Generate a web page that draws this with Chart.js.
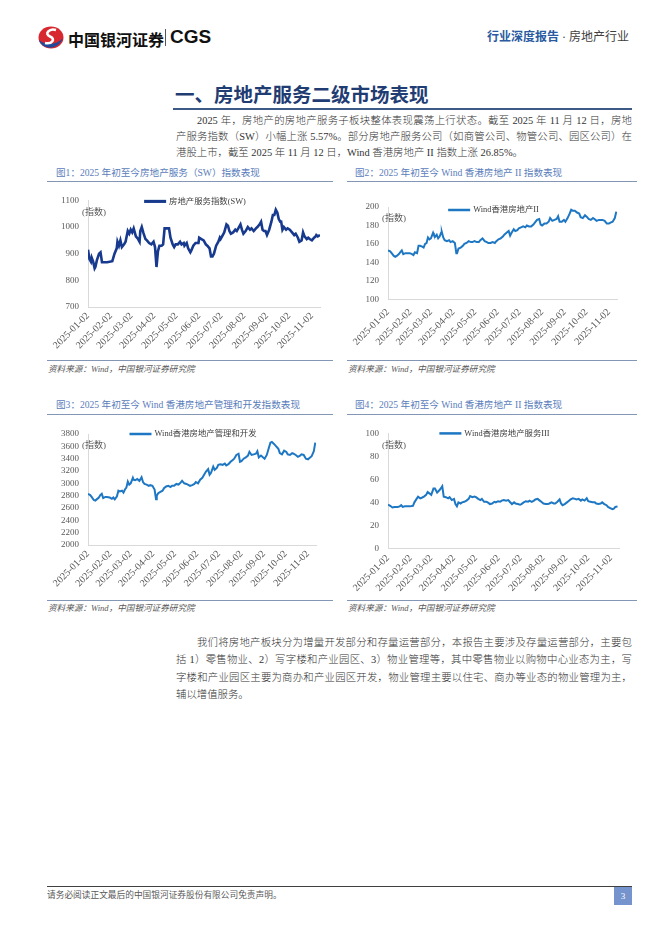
<!DOCTYPE html>
<html>
<head>
<meta charset="utf-8">
<script src="https://cdn.jsdelivr.net/npm/chart.js@4.4.1/dist/chart.umd.min.js"></script>
<style>
  html, body { margin: 0; padding: 0; background: #fff; }
  #page { position: relative; width: 662px; height: 936px; overflow: hidden; background: #fff;
          font-family: "Liberation Serif", "Noto Sans CJK SC", serif; color: #333; }
  .abs { position: absolute; white-space: nowrap; }
  .brand { left: 68px; top: 27px; height: 20px; line-height: 20px; font: bold 16px "Noto Sans CJK SC", sans-serif; color: #111; }
  .brand-sep { left: 165px; top: 29px; width: 1px; height: 17px; background: #555; }
  .brand-en { left: 170px; top: 26px; height: 22px; line-height: 22px; font: bold 19px "Liberation Sans", Arial, sans-serif; color: #111; }
  .hdr { left: 487px; top: 30px; height: 15px; line-height: 15px; font-size: 12px; }
  .hdr .a { color: #2a5aa0; font-weight: bold; }
  .hdr .b { color: #404040; }
  .h1 { left: 175px; top: 79px; height: 24px; line-height: 24px; font: bold 19.5px "Noto Sans CJK SC", sans-serif; color: #1f3c73; }
  .h1-rule { left: 173px; top: 108px; width: 459px; height: 2px; background: #3d5a87; }
  .ln { position: absolute; left: 176px; width: 456px; height: 16px; line-height: 16px; font-size: 10.4px; font-weight: 300;
        color: #333; text-align: justify; text-align-last: justify; }
  .ln.ind { left: 197px; width: 435px; }
  .ln.end { text-align-last: left; }
  .fig { height: 14px; line-height: 14px; font-size: 9.6px; color: #5a7dbb; }
  .rule { height: 1px; background: #8496b6; }
  .src { height: 12px; line-height: 12px; font-size: 8.6px; font-style: italic; color: #595959; }
  canvas { position: absolute; }
  .foot-rule { left: 47px; top: 886px; width: 585px; height: 1px; background: #404040; }
  .foot { left: 47px; top: 889px; height: 12px; line-height: 12px; font-size: 8.7px; color: #595959; }
  .pg { left: 614px; top: 887px; width: 18px; height: 18px; line-height: 18px; background: #7593cc;
        color: #fff; font-size: 9px; text-align: center; }
</style>
</head>
<body>
<div id="page">
  <svg class="abs" style="left:38px;top:26px" width="26" height="23" viewBox="0 0 26 23">
    <ellipse cx="13" cy="11.5" rx="12.5" ry="11" fill="#d7282f"/>
    <path d="M1 14 C4 24, 20 25, 25 12 C19 19, 8 20, 1 14 Z" fill="#1e4a9b"/>
    <path d="M18 4 C11 2, 6 8, 12 10.5 C18 13, 14 18.5, 7 17" stroke="#fff" stroke-width="2.6" fill="none"/>
  </svg>
  <div class="abs brand">中国银河证券</div>
  <div class="abs brand-sep"></div>
  <div class="abs brand-en">CGS</div>
  <div class="abs hdr"><span class="a">行业深度报告</span><span class="b">&nbsp;·&nbsp;房地产行业</span></div>

  <div class="abs h1">一、房地产服务二级市场表现</div>
  <div class="abs h1-rule"></div>

  <div class="ln ind" style="top:113px">2025 年，房地产的房地产服务子板块整体表现震荡上行状态。截至 2025 年 11 月 12 日，房地</div>
  <div class="ln" style="top:129px">产服务指数（SW）小幅上涨 5.57%。部分房地产服务公司（如商管公司、物管公司、园区公司）在</div>
  <div class="ln end" style="top:145px">港股上市，截至 2025 年 11 月 12 日，Wind 香港房地产 II 指数上涨 26.85%。</div>

  <div class="abs fig" style="left:56px;top:166px">图1：2025 年初至今房地产服务（SW）指数表现</div>
  <div class="abs rule" style="left:47px;top:181px;width:286px"></div>
  <div class="abs fig" style="left:355px;top:166px">图2：2025 年初至今 Wind 香港房地产 II 指数表现</div>
  <div class="abs rule" style="left:347px;top:181px;width:290px"></div>

  <canvas id="chartSw" width="290" height="172" style="left:46px;top:186px"></canvas>
  <canvas id="chartHkRe" width="290" height="172" style="left:346px;top:186px"></canvas>

  <div class="abs rule" style="left:47px;top:360px;width:286px"></div>
  <div class="abs src" style="left:48px;top:363px">资料来源：Wind，中国银河证券研究院</div>
  <div class="abs rule" style="left:347px;top:360px;width:290px"></div>
  <div class="abs src" style="left:348px;top:363px">资料来源：Wind，中国银河证券研究院</div>

  <div class="abs fig" style="left:56px;top:398px">图3：2025 年初至今 Wind 香港房地产管理和开发指数表现</div>
  <div class="abs rule" style="left:47px;top:414px;width:286px"></div>
  <div class="abs fig" style="left:355px;top:398px">图4：2025 年初至今 Wind 香港房地产 II 指数表现</div>
  <div class="abs rule" style="left:347px;top:414px;width:290px"></div>

  <canvas id="chartHkDev" width="290" height="175" style="left:46px;top:419px"></canvas>
  <canvas id="chartHkSvc" width="290" height="175" style="left:346px;top:419px"></canvas>

  <div class="abs rule" style="left:47px;top:600px;width:286px"></div>
  <div class="abs src" style="left:48px;top:602px">资料来源：Wind，中国银河证券研究院</div>
  <div class="abs rule" style="left:347px;top:600px;width:290px"></div>
  <div class="abs src" style="left:348px;top:602px">资料来源：Wind，中国银河证券研究院</div>

  <div class="ln ind" style="top:635px">我们将房地产板块分为增量开发部分和存量运营部分，本报告主要涉及存量运营部分，主要包</div>
  <div class="ln" style="top:652px">括 1）零售物业、2）写字楼和产业园区、3）物业管理等，其中零售物业以购物中心业态为主，写</div>
  <div class="ln" style="top:670px">字楼和产业园区主要为商办和产业园区开发，物业管理主要以住宅、商办等业态的物业管理为主，</div>
  <div class="ln end" style="top:687px">辅以增值服务。</div>

  <div class="abs foot-rule"></div>
  <div class="abs foot">请务必阅读正文最后的中国银河证券股份有限公司免责声明。</div>
  <div class="abs pg">3</div>
</div>

<script>
// ============================================================================
// DATA  (x = days since 2025-01-02)
// ============================================================================

var tickDates = ['2025-01-02', '2025-02-02', '2025-03-02', '2025-04-02', '2025-05-02', '2025-06-02',
                 '2025-07-02', '2025-08-02', '2025-09-02', '2025-10-02', '2025-11-02'];

// 图1 房地产服务指数(SW)
var swDays = [0,2,4,5,7,9,10,12,15,17, 19,26,33,36,39,40,42,44,46,49,
              51,54,56,58,60,62,65,68,70,71, 73,75,78,80,83,86,89,91,93,95,
              97,100,102,104,107,110,112,115,117,119, 122,125,127,130,131,134,136,139,140,143,
              146,150,151,154,157,160,162,165,167,169, 171,174,177,179,180,183,185,188,190,192,
              194,197,200,202,205,207,209,211,214,217, 220,222,225,228,230,233,235,237,239,241,
              243,246,249,251,253,255,257,259,261,262, 264,266,269,271,274,277,280,282,285,287,
              290,292,294,297,299,301,304,307,309,310, 312,315];
var swValues = [915,880,870,885,870,845,850,875,900,905, 868,868,872,900,920,945,930,950,925,935,
                945,985,975,990,980,995,965,955,945,985, 1000,980,955,950,940,935,945,925,850,910,
                930,930,935,995,995,995,960,935,925,935, 935,945,935,940,930,940,920,905,910,930,
                940,940,960,955,950,935,930,920,890,890, 900,930,945,960,955,970,980,1010,1005,985,
                975,980,990,985,1000,1010,990,975,985,1000, 990,995,985,995,1000,1010,1020,990,985,985,
                970,990,1020,1045,1045,1065,1055,1030,1020,1025, 990,1000,990,995,990,980,970,975,960,945,
                950,980,965,955,960,955,950,960,965,970, 965,970];

// 图2 Wind香港房地产II
var hkReDays = [0,3,5,8,10,12,15,17,19,21, 24,26,30,33,35,37,40,42,44,47,
                49,51,53,55,57,59,62,63,65,67, 69,71,73,74,76,78,81,84,86,89,
                92,94,95,97,100,103,105,108,111,114, 116,119,122,125,127,130,133,136,138,141,
                144,147,149,152,155,158,160,163,166,168, 170,173,175,178,180,183,186,189,191,194,
                197,200,202,205,208,210,212,215,218,221, 223,226,229,232,234,236,239,242,244,247,
                250,252,254,257,260,263,265,268,271,274, 276,279,282,284,287,290,293,295,298,301,
                304,306,309,312,314];
var hkReValues = [153,152,150,147,146,147,149,151,153,149, 150,150,150,149,148,151,150,158,158,157,
                  156,160,161,167,165,166,172,170,168,170, 166,168,172,173,167,164,163,164,162,163,
                  161,150,150,155,156,158,160,161,163,162, 162,163,162,162,164,166,163,162,161,161,
                  162,161,163,165,166,168,170,172,174,169, 172,176,174,175,177,178,179,178,180,179,
                  179,181,183,186,187,181,180,182,182,184, 188,185,186,187,190,184,184,186,184,188,
                  193,197,196,196,194,193,189,188,191,189, 187,186,188,187,185,186,186,186,185,182,
                  182,183,184,188,195];

// 图3 Wind香港房地产管理和开发
var hkDevDays = [0,3,5,8,10,12,15,17,19,21, 24,26,30,33,35,37,40,42,44,47,
                 49,51,53,55,57,59,62,63,65,68, 71,73,74,76,78,81,84,86,89,92,
                 94,95,97,100,103,105,108,111,114,116, 119,122,125,127,130,133,136,138,141,144,
                 147,149,152,155,158,160,163,166,168,170, 173,175,178,180,183,186,189,191,194,197,
                 200,202,205,208,210,212,215,218,221,223, 226,229,232,234,236,239,242,244,247,250,
                 252,254,257,260,263,265,268,271,274,276, 279,282,284,287,290,293,295,298,301,304,
                 306,309,312,314];
var hkDevValues = [2830,2810,2780,2730,2720,2740,2770,2810,2830,2760, 2780,2780,2770,2750,2770,2740,2790,2880,2870,2880,
                   2850,2900,2930,3030,2980,3000,3090,3060,3050,3070, 3040,3080,3100,3020,2990,2980,2960,2970,2960,2900,
                   2740,2800,2840,2860,2880,2920,2950,2960,2940,2960, 2960,2990,2980,3000,3040,3000,2990,2980,2960,2970,
                   2990,3020,3000,3060,3090,3130,3190,3230,3140,3170, 3270,3220,3250,3300,3310,3300,3320,3290,3310,3350,
                   3380,3400,3460,3480,3350,3360,3400,3420,3450,3510, 3460,3470,3480,3520,3420,3450,3420,3400,3460,3580,
                   3660,3670,3640,3600,3560,3490,3470,3530,3510,3470, 3460,3490,3480,3460,3430,3450,3470,3460,3400,3390,
                   3410,3440,3520,3660];

// 图4 Wind香港房地产服务III
var hkSvcDays = [0,3,6,9,13,16,18,20,23,27, 30,34,36,39,41,44,46,49,52,54,
                 56,59,62,64,67,70,73,74,76,79, 82,84,87,90,92,94,96,99,101,104,
                 107,110,112,115,118,120,123,126,128,131, 134,136,139,142,145,147,150,153,155,158,
                 161,164,166,169,172,174,177,180,182,185, 188,191,193,196,199,201,204,207,209,212,
                 215,218,220,223,226,228,231,234,236,238, 241,244,246,249,252,255,257,260,263,265,
                 268,271,273,276,279,282,284,287,290,292, 295,298,300,303,306,308,310,313];
var hkSvcValues = [38,37,35.5,36,36,36.5,37.5,36,36.5,36.5, 36.5,37,40,43,45,43.5,44,45,46.5,49,
                   48,46.5,52,52,48.5,50.5,53,54,45,44.5, 43.5,44.5,42,43,38.5,36.5,40,39,40,40.5,
                   41.5,43,45.5,44.5,45,44.5,43,42,43,40.5, 40.5,40,38.5,39,40.5,40,41,40.5,41.5,42,
                   41.5,42,40.5,38.5,40,39,38.5,38,38.5,40, 41,40.5,41.5,40.5,41.5,42.5,43,41.5,40.5,39,
                   38.5,38.5,39,40,39,39,40.5,42.5,39,37.5, 38.5,40,41,42.5,43.5,43,42.5,43,41.5,42.5,
                   41.5,43.5,41,40.5,40,40,39,38.5,39,40, 38.5,37.5,36,35,34,34.5,36,36.5];

// ============================================================================
// HELPERS
// ============================================================================

var AXIS_GREY = '#d9d9d9';
var TEXT_GREY = '#595959';
var SERIF = "'Liberation Serif', 'Noto Sans CJK SC', serif";

function dayOf(dateStr) {
    var p = dateStr.split('-');
    return (Date.UTC(+p[0], +p[1] - 1, +p[2]) - Date.UTC(2025, 0, 2)) / 864e5;
}

var tickDays = tickDates.map(dayOf);

function toPoints(days, values) {
    return days.map(function(d, i) { return { x: d, y: values[i] }; });
}

// unit label "(指数)" and the one-line legend drawn inside the plot, as in the source
var chartNotes = {
    id: 'chartNotes',
    afterDraw: function(chart, args, opts) {
        var ctx = chart.ctx;
        var area = chart.chartArea;
        var ds = chart.data.datasets[0];
        ctx.save();
        ctx.textBaseline = 'middle';
        ctx.textAlign = 'left';
        ctx.font = '9px ' + SERIF;
        ctx.fillStyle = TEXT_GREY;
        ctx.fillText('(指数)', area.left - 6, area.top + opts.unitDy);

        ctx.font = '8.4px ' + SERIF;
        var tw = ctx.measureText(ds.label).width;
        var total = 22 + 3 + tw;
        var x = (area.left + area.right) / 2 - 9 - total / 2;
        var y = area.top + opts.legendDy;
        ctx.strokeStyle = ds.borderColor;
        ctx.lineWidth = ds.borderWidth + 0.5;
        ctx.beginPath();
        ctx.moveTo(x, y);
        ctx.lineTo(x + 22, y);
        ctx.stroke();
        ctx.fillStyle = '#404040';
        ctx.fillText(ds.label, x + 25, y);
        ctx.restore();
    }
};

/**
 * Build one index line chart
 * @param {string} canvasId - Canvas element ID
 * @param {Object} cfg - series + axis settings
 */
function buildChart(canvasId, cfg) {
    return new Chart(document.getElementById(canvasId), {
        type: 'line',
        data: {
            datasets: [{
                label: cfg.label,
                data: toPoints(cfg.days, cfg.values),
                borderColor: cfg.color,
                borderWidth: cfg.lineWidth,
                pointRadius: 0,
                tension: 0,
                fill: false
            }]
        },
        options: {
            responsive: false,
            maintainAspectRatio: false,
            animation: false,
            layout: { padding: { top: cfg.padTop, right: cfg.padRight, left: 0, bottom: 0 } },
            plugins: {
                legend: { display: false },
                tooltip: { enabled: false },
                chartNotes: { unitDy: 12, legendDy: cfg.legendDy }
            },
            scales: {
                x: {
                    type: 'linear',
                    min: 0,
                    max: 315,
                    grid: { display: false, drawTicks: false },
                    border: { display: true, color: AXIS_GREY },
                    afterBuildTicks: function(axis) {
                        axis.ticks = tickDays.map(function(v) { return { value: v }; });
                    },
                    afterFit: function(axis) { axis.height = cfg.xHeight; },
                    ticks: {
                        autoSkip: false,
                        minRotation: 45,
                        maxRotation: 45,
                        padding: cfg.xPad,
                        color: TEXT_GREY,
                        font: { family: SERIF, size: 10 },
                        callback: function(value, index) { return tickDates[index]; }
                    }
                },
                y: {
                    min: cfg.yMin,
                    max: cfg.yMax,
                    grid: { display: false, drawTicks: false },
                    border: { display: true, color: AXIS_GREY },
                    afterFit: function(axis) { axis.width = 42; },
                    ticks: {
                        stepSize: cfg.yStep,
                        autoSkip: false,
                        padding: 9,
                        color: TEXT_GREY,
                        font: { family: SERIF, size: 9 },
                        callback: function(value) { return String(value); }
                    }
                }
            }
        },
        plugins: [chartNotes]
    });
}

// ============================================================================
// CHARTS
// ============================================================================

buildChart('chartSw', {
    label: '房地产服务指数(SW)', days: swDays, values: swValues,
    color: '#173a8e', lineWidth: 2.6,
    yMin: 700, yMax: 1100, yStep: 100,
    padTop: 13, padRight: 16, xHeight: 51, xPad: 3, legendDy: 1
});

buildChart('chartHkRe', {
    label: 'Wind香港房地产II', days: hkReDays, values: hkReValues,
    color: '#1e77c3', lineWidth: 2,
    yMin: 100, yMax: 200, yStep: 20,
    padTop: 21, padRight: 19, xHeight: 58.7, xPad: 7, legendDy: 3
});

buildChart('chartHkDev', {
    label: 'Wind香港房地产管理和开发', days: hkDevDays, values: hkDevValues,
    color: '#1e77c3', lineWidth: 2,
    yMin: 2000, yMax: 3800, yStep: 200,
    padTop: 15, padRight: 20, xHeight: 49, xPad: 3, legendDy: 0
});

buildChart('chartHkSvc', {
    label: 'Wind香港房地产服务III', days: hkSvcDays, values: hkSvcValues,
    color: '#1e77c3', lineWidth: 2,
    yMin: 0, yMax: 100, yStep: 20,
    padTop: 11, padRight: 17, xHeight: 45.7, xPad: 4, legendDy: 0
});
</script>
</body>
</html>
